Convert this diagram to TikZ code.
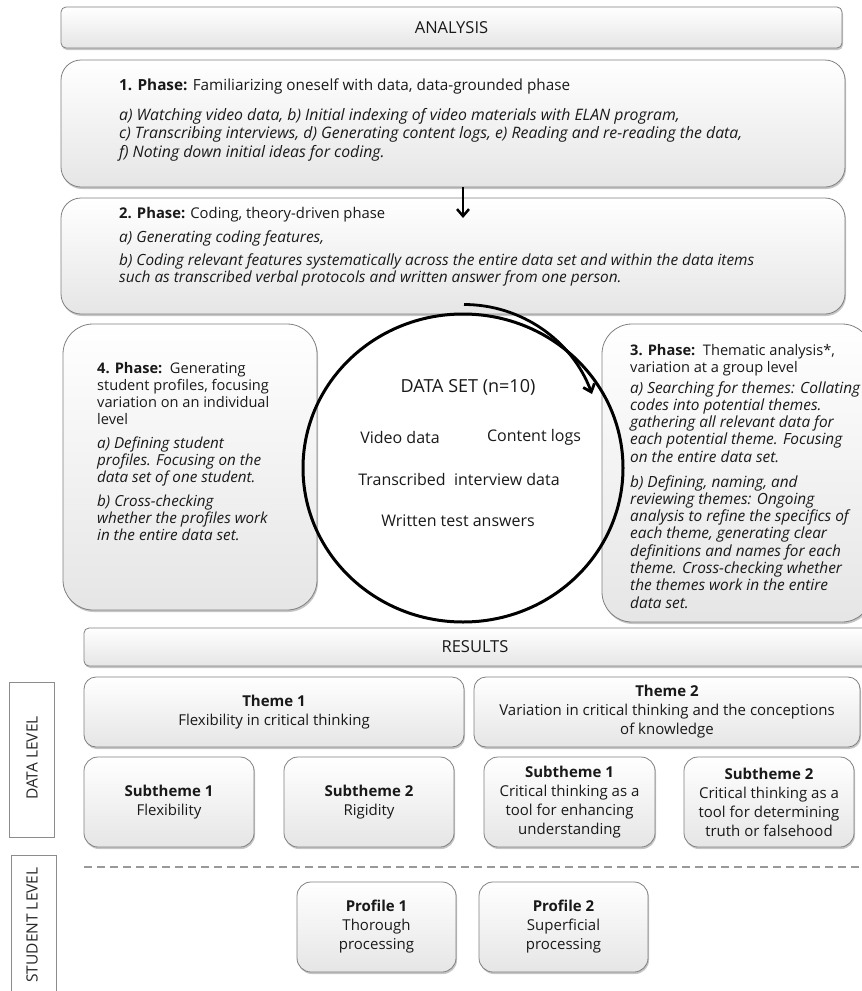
\documentclass[tikz,border=0pt]{standalone}
\usepackage{fontspec}
\setmainfont{Open Sans}
\usetikzlibrary{arrows.meta,shadows,shapes.geometric}
\newcommand{\mylines}[1]{\begin{tabular}[t]{@{}l@{}}#1\end{tabular}}
\begin{document}
\begin{tikzpicture}[x=1pt,y=-1pt,
  box/.style={draw=black!50, line width=0.8pt, top color=white, bottom color=black!10,
    drop shadow={shadow xshift=1pt,shadow yshift=-2pt,opacity=0.45},
    inner sep=0pt, align=center, text=black!90, font=\fontsize{15}{19}\selectfont},
  para/.style={anchor=base west, inner sep=0pt, text=black!90},
  ctext/.style={inner sep=0pt, text=black!90, font=\fontsize{16}{19}\selectfont},
  lvl/.style={draw=black!45, line width=1pt, fill=white, inner sep=0pt},
  lvltext/.style={rotate=90, inner sep=0pt, text=black!85, font=\fontsize{15.5}{18}\selectfont},
  barb/.style={-{Straight Barb[length=7pt,width=12pt]}}
]
\clip (0,0) rectangle (862,991);
\fill[white] (0,0) rectangle (862,991);

% ---------------- ANALYSIS ----------------
\node[box, rounded corners=5pt, minimum width=781pt, minimum height=41pt, font=\fontsize{16.5}{19}\selectfont] (analysis) at (451.5,27.5) {ANALYSIS};

% Phase 1
\node[box, rounded corners=20pt, minimum width=784pt, minimum height=127pt] (p1) at (453,123.5) {};
\node[para, font=\fontsize{15.3}{18}\selectfont] (p1t) at (119,90) {\textbf{1. Phase:} Familiarizing oneself with data, data-grounded phase};
\node[para, font=\itshape\fontsize{15.8}{18.9}\selectfont] (p1a) at (119,120) {\mylines{a) Watching video data, b) Initial indexing of video materials with ELAN program,\\ c) Transcribing interviews, d) Generating content logs, e) Reading and re-reading the data,\\ f) Noting down initial ideas for coding.}};

% Phase 2
\node[box, rounded corners=20pt, minimum width=784pt, minimum height=116pt] (p2) at (453,256) {};
\node[para, font=\fontsize{14.8}{17.3}\selectfont] (p2t) at (119,218) {\textbf{2. Phase:} Coding, theory-driven phase};
\node[para, font=\itshape\fontsize{15.4}{17.3}\selectfont] (p2a) at (119,242) {a) Generating coding features,};
\node[para, font=\itshape\fontsize{15.4}{17.3}\selectfont] (p2b) at (119,265) {\mylines{b) Coding relevant features systematically across the entire data set and within the data items\\ such as transcribed verbal protocols and written answer from one person.}};

% Phase 4
\node[box, rounded corners=30pt, minimum width=254pt, minimum height=286pt] (p4) at (190,467) {};
\node[para, font=\fontsize{14.6}{17}\selectfont] (p4t) at (97,373) {\mylines{\textbf{4. Phase:}\ \ Generating\\ student profiles, focusing\\ variation on an individual\\ level}};
\node[para, font=\itshape\fontsize{15.2}{17}\selectfont] (p4a) at (97,448) {\mylines{a) Defining student\\ profiles. Focusing on the\\ data set of one student.}};
\node[para, font=\itshape\fontsize{15.2}{17}\selectfont] (p4b) at (97,506) {\mylines{b) Cross-checking\\ whether the profiles work\\ in the entire data set.}};

% Phase 3
\node[box, rounded corners=30pt, minimum width=270pt, minimum height=298pt] (p3) at (737,473) {};
\node[para, font=\fontsize{14.6}{17.3}\selectfont] (p3t) at (630,355) {\mylines{\textbf{3. Phase:}\ \ Thematic analysis*,\\ variation at a group level}};
\node[para, font=\itshape\fontsize{15.4}{17.3}\selectfont] (p3a) at (630,393) {\mylines{a) Searching for themes: Collating\\ codes into potential themes.\\ gathering all relevant data for\\ each potential theme. Focusing\\ on the entire data set.}};
\node[para, font=\itshape\fontsize{15.4}{17.3}\selectfont] (p3b) at (630,487) {\mylines{b) Defining, naming, and\\ reviewing themes: Ongoing\\ analysis to refine the specifics of\\ each theme, generating clear\\ definitions and names for each\\ theme. Cross-checking whether\\ the themes work in the entire\\ data set.}};

% Data set circle
\node[draw, ellipse, line width=3pt, minimum width=320pt, minimum height=308pt, inner sep=0pt] (ds) at (463,468) {};
\node[ctext, font=\fontsize{18}{20}\selectfont] (dst) at (468,387) {DATA SET (n=10)};
\node[ctext] (dsv) at (400,437) {Video data};
\node[ctext] (dsc) at (534,437) {Content logs};
\node[ctext] (dsi) at (459,479) {Transcribed\ \ interview data};
\node[ctext] (dsw) at (458,521) {Written test answers};

% connectors
\coordinate (a1s) at (463,187);
\coordinate (a1e) at (463,218);
\draw[line width=2.5pt, -{Straight Barb[length=7pt,width=12pt]}] (a1s) -- (a1e);
\coordinate (a2s) at (464,304.5);
\coordinate (a2e) at (592,394);
\draw[barb, line width=2.8pt] (a2s) .. controls (521,304.5) and (572,340) .. (a2e);

% ---------------- RESULTS ----------------
\node[box, rounded corners=5pt, minimum width=796pt, minimum height=38pt] (results) at (482,647) {};
\node[inner sep=0pt, text=black!90, font=\fontsize{16.5}{19}\selectfont] (rest) at (475,647) {RESULTS};

\node[box, rounded corners=12pt, minimum width=380pt, minimum height=70pt] (th1) at (274,712) {\textbf{Theme 1}\\ Flexibility in critical thinking};
\node[box, rounded corners=12pt, minimum width=386pt, minimum height=70pt] (th2) at (667,712) {\textbf{Theme 2}\\ Variation in critical thinking and the conceptions\\ of knowledge};

\node[box, rounded corners=14pt, minimum width=170pt, minimum height=90pt] (s11) at (169,802) {\textbf{Subtheme 1}\\ Flexibility};
\node[box, rounded corners=14pt, minimum width=170pt, minimum height=90pt] (s12) at (369,802) {\textbf{Subtheme 2}\\ Rigidity};
\node[box, rounded corners=14pt, minimum width=171pt, minimum height=90pt] (s21) at (569.5,802) {\textbf{Subtheme 1}\\ Critical thinking as a\\ tool for enhancing\\ understanding};
\node[box, rounded corners=14pt, minimum width=170pt, minimum height=90pt] (s22) at (769,802) {\textbf{Subtheme 2}\\ Critical thinking as a\\ tool for determining\\ truth or falsehood};

\coordinate (dashL) at (84,867);
\coordinate (dashR) at (862,867);
\draw[black!40, line width=1.5pt, dash pattern=on 8pt off 5pt] (dashL) -- (dashR);

\node[box, rounded corners=14pt, minimum width=159pt, minimum height=90pt] (pr1) at (376.5,927) {\textbf{Profile 1}\\ Thorough\\ processing};
\node[box, rounded corners=14pt, minimum width=169pt, minimum height=90pt] (pr2) at (563.5,927) {\textbf{Profile 2}\\ Superficial\\ processing};

% level labels
\node[lvl, minimum width=45pt, minimum height=155pt] (dl) at (31.5,759.5) {};
\node[lvltext] (dlt) at (32,758) {DATA LEVEL};
\node[lvl, minimum width=45pt, minimum height=150pt] (sl) at (33.5,930) {};
\node[lvltext] (slt) at (32,925) {STUDENT LEVEL};
\end{tikzpicture}
\end{document}
